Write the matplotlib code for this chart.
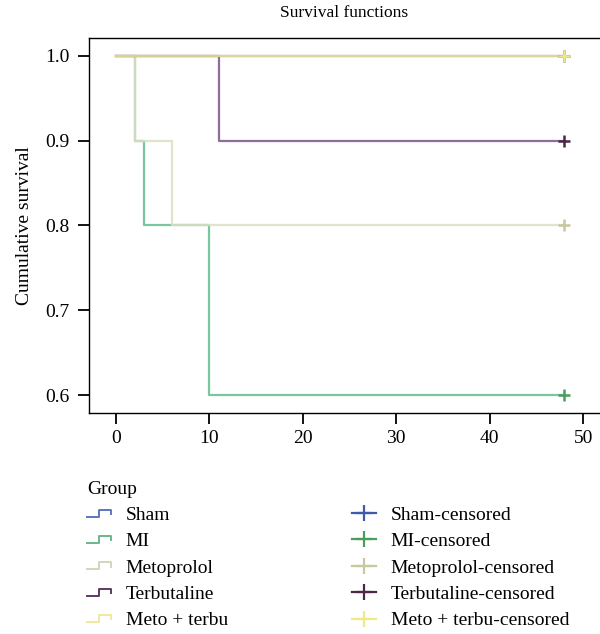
import matplotlib
matplotlib.use("Agg")
import matplotlib.pyplot as plt
from matplotlib.lines import Line2D
from matplotlib.legend_handler import HandlerBase

# ---------------------------------------------------------------------------
# Data (Kaplan-Meier step points)
# ---------------------------------------------------------------------------
groups = ["Sham", "MI", "Metoprolol", "Terbutaline", "Meto + terbu"]

sham_t = [0, 48]
sham_s = [1.0, 1.0]
mi_t = [0, 2, 3, 10, 48]
mi_s = [1.0, 0.9, 0.8, 0.6, 0.6]
meto_t = [0, 2, 6, 48]
meto_s = [1.0, 0.9, 0.8, 0.8]
terb_t = [0, 11, 48]
terb_s = [1.0, 0.9, 0.9]
mt_t = [0, 48]
mt_s = [1.0, 1.0]

censor_t = [48, 48, 48, 48, 48]
censor_s = [1.0, 0.6, 0.8, 0.9, 1.0]

x_ticks = [0, 10, 20, 30, 40, 50]
y_ticks = [0.6, 0.7, 0.8, 0.9, 1.0]

line_colors = ["#5b77bd", "#63bd8e", "#dcdec4", "#7a5486", "#ece88c"]
cens_colors = ["#3f5aa6", "#4a9d5e", "#c8c89e", "#4b2749", "#eeea88"]
legend_step_colors = ["#5b77bd", "#6bb78a", "#d5d6b8", "#5c3a64", "#eeeaa0"]

plt.rcParams["font.family"] = ["Liberation Serif", "DejaVu Serif"]


class StepHandler(HandlerBase):
    """Little step-shaped icon used by the survival legend."""

    def create_artists(self, legend, orig_handle, xdescent, ydescent,
                       width, height, fontsize, trans):
        x0, y0 = -xdescent, -ydescent
        xs = [x0, x0 + 0.5 * width, x0 + 0.5 * width, x0 + width, x0 + width]
        ys = [y0 + 0.25 * height, y0 + 0.25 * height, y0 + 0.75 * height,
              y0 + 0.75 * height, y0 + 0.45 * height]
        ln = Line2D(xs, ys, color=orig_handle.get_color(), lw=1.4, transform=trans)
        return [ln]


fig = plt.figure(figsize=(6.0, 6.34), dpi=100)
ax = fig.add_axes([0.1483, 0.3486, 0.8517, 0.5915])

series = [(sham_t, sham_s), (mi_t, mi_s), (meto_t, meto_s),
          (terb_t, terb_s), (mt_t, mt_s)]
order = [0, 1, 2, 4, 3]
for i in order:
    t, s = series[i]
    ax.step(t, s, where="post", color=line_colors[i], lw=1.6, alpha=0.85,
            zorder=2 + i)
for i in order:
    ax.plot(censor_t[i], censor_s[i], marker="+", ms=9, mew=1.8,
            color=cens_colors[i], ls="none", zorder=10 + i)

ax.set_xlim(-2.89, 51.8)
ax.set_ylim(0.579, 1.021)
ax.set_xticks(x_ticks)
ax.set_yticks(y_ticks)
ax.set_yticklabels([f"{v:.1f}" for v in y_ticks])
ax.tick_params(direction="out", length=8, width=1.3, labelsize=14, pad=4)
ax.tick_params(axis="y", pad=6)
for side in ["top", "left", "bottom"]:
    ax.spines[side].set_linewidth(1.0)
ax.spines["right"].set_visible(False)

ax.set_ylabel("Cumulative survival", fontsize=14, labelpad=9)
ax.set_title("Survival functions", fontsize=12.5, pad=15)

# legend: step icons + censoring crosses
step_handles = [Line2D([], [], color=c) for c in legend_step_colors]
cens_handles = [Line2D([], [], color=c, marker="+", ms=12, mew=1.6, lw=1.6)
                for c in cens_colors]
handles = step_handles + cens_handles
labels = groups + [f"{g}-censored" for g in groups]
leg = fig.legend(handles, labels, ncol=2, title="Group", loc="upper left",
                 bbox_to_anchor=(0.145, 0.242), frameon=False, fontsize=14,
                 title_fontsize=14, alignment="left", handlelength=1.23,
                 handletextpad=0.75, columnspacing=6.4, labelspacing=0.45,
                 borderpad=0.0, borderaxespad=0.0,
                 handler_map={h: StepHandler() for h in step_handles})

fig.savefig("out.png", dpi=100)
